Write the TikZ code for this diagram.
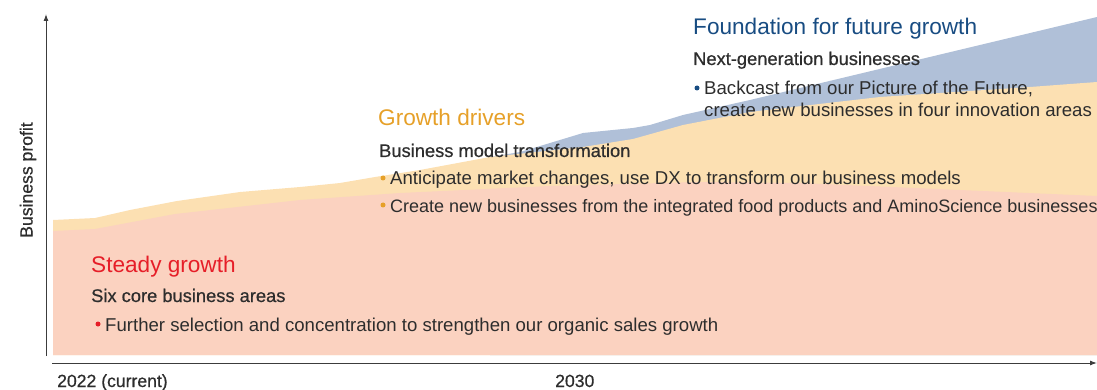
\documentclass[tikz,border=0pt]{standalone}
\usepackage{fontspec}
\setmainfont{Liberation Sans}
\newfontfamily\medfont[FakeBold=0.6]{Liberation Sans}
\usetikzlibrary{arrows.meta}
\definecolor{pinkfill}{RGB}{251,210,192}
\definecolor{yellowfill}{RGB}{252,224,178}
\definecolor{bluefill}{RGB}{176,192,216}
\definecolor{redhead}{RGB}{230,30,40}
\definecolor{orangehead}{RGB}{230,160,40}
\definecolor{bluehead}{RGB}{24,76,130}
\definecolor{txt}{RGB}{45,45,45}
\definecolor{axiscol}{RGB}{60,60,60}
\tikzset{
  head/.style={anchor=base west,inner sep=0pt,font=\fontsize{22.6}{26}\selectfont},
  sub/.style={anchor=base west,inner sep=0pt,text=txt,font=\medfont\fontsize{18.3}{21}\selectfont},
  yearlab/.style={anchor=base west,inner sep=0pt,text=txt,font=\medfont\fontsize{17.6}{21}\selectfont},
  body/.style={anchor=base west,inner sep=0pt,text=txt,font=\fontsize{18.6}{22}\selectfont},
  dot/.style={circle,inner sep=0pt,minimum size=5pt},
  axis/.style={draw=axiscol,line width=1pt,-{Latex[length=7pt,width=5pt]}},
}
\begin{document}
\begin{tikzpicture}[x=1pt,y=-1pt]
\useasboundingbox (0,0) rectangle (1097,390);
% areas
\fill[bluefill] (490,157)--(520,152)--(550,143)--(583,133)--(633,128)--(650,125)--(683,115)--(750,100)--(1097,17)--(1097,355)--(490,355)--cycle;
\fill[yellowfill] (53,355)--(53,220)--(95,218)--(130,210)--(177,201)--(240,192)--(300,187)--(340,183)--(375,177)--(420,170)--(490,157)--(583,147)--(633,139)--(683,125)--(750,112)--(880,97)--(1030,87)--(1097,82)--(1097,355)--cycle;
\fill[pinkfill] (53,355)--(53,231)--(95,229)--(175,214)--(300,200)--(400,193)--(550,186)--(700,182)--(800,183)--(1097,196)--(1097,355)--cycle;
% axes
\coordinate (yo) at (46,356);
\coordinate (yt) at (46,14);
\coordinate (xo) at (52,363);
\coordinate (xt) at (1097,363);
\draw[axis] (yo) -- (yt);
\draw[axis] (xo) -- (xt);
\node[anchor=center,rotate=90,inner sep=0pt,text=txt,font=\medfont\fontsize{17.6}{21}\selectfont] (ylab) at (28,180) {Business profit};
\node[yearlab] (x2022) at (57,387) {2022 (current)};
\node[yearlab] (x2030) at (555,387) {2030};
% steady growth
\node[head,text=redhead] (sg) at (91,272) {Steady growth};
\node[sub] (sgs) at (91,302) {Six core business areas};
\node[dot,fill=redhead] (sgd) at (98,324) {};
\node[body] (sgt) at (105,331) {Further selection and concentration to strengthen our organic sales growth};
% growth drivers
\node[head,text=orangehead] (gd) at (378,126) {Growth drivers};
\node[sub] (gds) at (379,157) {Business model transformation};
\node[dot,fill=orangehead] (gdd1) at (383,178) {};
\node[body] (gdt1) at (390,185) {Anticipate market changes, use DX to transform our business models};
\node[dot,fill=orangehead] (gdd2) at (383,205) {};
\node[body,font=\fontsize{18.0}{22}\selectfont] (gdt2) at (390,212) {Create new businesses from the integrated food products and AminoScience businesses};
% foundation
\node[head,text=bluehead] (ff) at (693,35) {Foundation for future growth};
\node[sub] (ffs) at (693,65) {Next-generation businesses};
\node[dot,fill=bluehead] (ffd) at (697,88) {};
\node[body] (fft1) at (704,95) {Backcast from our Picture of the Future,};
\node[body] (fft2) at (704,117) {create new businesses in four innovation areas};
\end{tikzpicture}
\end{document}
